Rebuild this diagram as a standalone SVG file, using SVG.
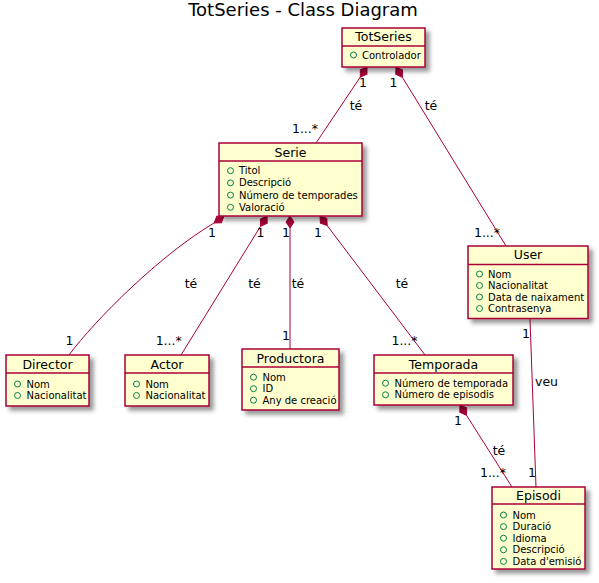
<svg xmlns="http://www.w3.org/2000/svg" xmlns:xlink="http://www.w3.org/1999/xlink" width="599" height="583" viewBox="0 0 599 583">
<defs>
<filter id="sh" x="-20%" y="-20%" width="150%" height="150%">
<feGaussianBlur result="b1" stdDeviation="2"/>
<feColorMatrix type="matrix" in="b1" result="b2" values="0 0 0 0 0 0 0 0 0 0 0 0 0 0 0 0 0 0 .4 0"/>
<feOffset result="b3" in="b2" dx="4" dy="4"/>
<feBlend in="SourceGraphic" in2="b3" mode="normal"/>
</filter>
<path id="dia" d="M0,0 L6,-4 L12,0 L6,4 Z"/>
<style>
.box{fill:#FEFECE;stroke:#A80036;stroke-width:1.5;filter:url(#sh)}
.sep{stroke:#A80036;stroke-width:1.5}
.name{font-family:"DejaVu Sans",sans-serif;font-size:12.5px;text-anchor:middle;fill:#000}
.attr{font-family:"DejaVu Sans",sans-serif;font-size:10px;fill:#000}
.dot{fill:none;stroke:#038048;stroke-width:1}
.ln{fill:none;stroke:#A80036;stroke-width:1}
.dm{fill:#A80036;stroke:#A80036;stroke-width:1}
.lbl{font-family:"DejaVu Sans",sans-serif;font-size:12.5px;text-anchor:middle;fill:#000}
.title{font-family:"DejaVu Sans",sans-serif;font-size:18px;text-anchor:middle;fill:#000}
</style>
</defs>
<rect width="599" height="583" fill="#FFFFFF"/>
<text class="title" x="303" y="16">TotSeries - Class Diagram</text>

<g id="connectors">
<line class="ln" x1="360.3" y1="77" x2="316" y2="143"/>
<use href="#dia" class="dm" transform="translate(367,67) rotate(123.9)"/>
<line class="ln" x1="402.3" y1="77.2" x2="506" y2="246"/>
<use href="#dia" class="dm" transform="translate(396,67) rotate(58.4)"/>
<path class="ln" d="M214.2,222.9 C160,255 95,320 69,355"/>
<use href="#dia" class="dm" transform="translate(224,216) rotate(145)"/>
<line class="ln" x1="260.6" y1="226.2" x2="181" y2="355"/>
<use href="#dia" class="dm" transform="translate(267,216) rotate(122)"/>
<line class="ln" x1="290" y1="228" x2="290" y2="349"/>
<use href="#dia" class="dm" transform="translate(290,216) rotate(90)"/>
<line class="ln" x1="327.2" y1="225.6" x2="425" y2="355"/>
<use href="#dia" class="dm" transform="translate(320,216) rotate(53)"/>
<line class="ln" x1="466.4" y1="415.1" x2="512" y2="487"/>
<use href="#dia" class="dm" transform="translate(460,405) rotate(57.6)"/>
<line class="ln" x1="530" y1="319" x2="536" y2="487"/>

<text class="lbl" x="363" y="87">1</text>
<text class="lbl" x="356" y="110">té</text>
<text class="lbl" x="305" y="133">1...*</text>
<text class="lbl" x="393.5" y="87">1</text>
<text class="lbl" x="431" y="110">té</text>
<text class="lbl" x="487" y="237">1...*</text>
<text class="lbl" x="212" y="237">1</text>
<text class="lbl" x="191" y="288">té</text>
<text class="lbl" x="69.5" y="345">1</text>
<text class="lbl" x="260.5" y="237">1</text>
<text class="lbl" x="254.5" y="288">té</text>
<text class="lbl" x="168.7" y="345">1...*</text>
<text class="lbl" x="286" y="237">1</text>
<text class="lbl" x="298" y="288">té</text>
<text class="lbl" x="286" y="340">1</text>
<text class="lbl" x="318" y="237">1</text>
<text class="lbl" x="402" y="288">té</text>
<text class="lbl" x="404.5" y="345">1...*</text>
<text class="lbl" x="526" y="338">1</text>
<text class="lbl" x="546.5" y="386">veu</text>
<text class="lbl" x="532" y="477">1</text>
<text class="lbl" x="458" y="425">1</text>
<text class="lbl" x="499" y="455">té</text>
<text class="lbl" x="493" y="477">1...*</text>
</g>

<g id="TotSeries">
<rect class="box" x="342" y="28" width="83" height="39"/>
<line class="sep" x1="342" y1="46" x2="425" y2="46"/>
<text class="name" x="383.5" y="41">TotSeries</text>
<circle class="dot" cx="353.5" cy="55" r="3"/>
<text class="attr" x="362" y="58.5">Controlador</text>
</g>

<g id="Serie">
<rect class="box" x="219" y="143" width="143" height="73"/>
<line class="sep" x1="219" y1="161" x2="362" y2="161"/>
<text class="name" x="290.5" y="156.5">Serie</text>
<circle class="dot" cx="230.5" cy="170.7" r="3"/>
<text class="attr" x="239" y="174.2">Titol</text>
<circle class="dot" cx="230.5" cy="182.9" r="3"/>
<text class="attr" x="239" y="186.4">Descripció</text>
<circle class="dot" cx="230.5" cy="195.1" r="3"/>
<text class="attr" x="239" y="198.6">Número de temporades</text>
<circle class="dot" cx="230.5" cy="207.3" r="3"/>
<text class="attr" x="239" y="210.8">Valoració</text>
</g>

<g id="User">
<rect class="box" x="468" y="246" width="120" height="72.5"/>
<line class="sep" x1="468" y1="264.5" x2="588" y2="264.5"/>
<text class="name" x="528" y="258.5">User</text>
<circle class="dot" cx="479.5" cy="274" r="3"/>
<text class="attr" x="488" y="277.5">Nom</text>
<circle class="dot" cx="479.5" cy="285.5" r="3"/>
<text class="attr" x="488" y="289">Nacionalitat</text>
<circle class="dot" cx="479.5" cy="297" r="3"/>
<text class="attr" x="488" y="300.5">Data de naixament</text>
<circle class="dot" cx="479.5" cy="308.5" r="3"/>
<text class="attr" x="488" y="312">Contrasenya</text>
</g>

<g id="Director">
<rect class="box" x="6" y="355" width="83" height="51"/>
<line class="sep" x1="6" y1="373" x2="89" y2="373"/>
<text class="name" x="47.5" y="368.5">Director</text>
<circle class="dot" cx="17.5" cy="384" r="3"/>
<text class="attr" x="26.5" y="387.5">Nom</text>
<circle class="dot" cx="17.5" cy="395.5" r="3"/>
<text class="attr" x="26.5" y="399">Nacionalitat</text>
</g>

<g id="Actor">
<rect class="box" x="125" y="355" width="84" height="51"/>
<line class="sep" x1="125" y1="373" x2="209" y2="373"/>
<text class="name" x="167" y="368.5">Actor</text>
<circle class="dot" cx="136.5" cy="384" r="3"/>
<text class="attr" x="145.5" y="387.5">Nom</text>
<circle class="dot" cx="136.5" cy="395.5" r="3"/>
<text class="attr" x="145.5" y="399">Nacionalitat</text>
</g>

<g id="Productora">
<rect class="box" x="242" y="349" width="97" height="61"/>
<line class="sep" x1="242" y1="367" x2="339" y2="367"/>
<text class="name" x="290.5" y="362.5">Productora</text>
<circle class="dot" cx="253.5" cy="377.2" r="3"/>
<text class="attr" x="262.5" y="380.7">Nom</text>
<circle class="dot" cx="253.5" cy="388.7" r="3"/>
<text class="attr" x="262.5" y="392.2">ID</text>
<circle class="dot" cx="253.5" cy="400.2" r="3"/>
<text class="attr" x="262.5" y="403.7">Any de creació</text>
</g>

<g id="Temporada">
<rect class="box" x="374" y="355" width="139" height="50"/>
<line class="sep" x1="374" y1="373" x2="513" y2="373"/>
<text class="name" x="443.5" y="368.5">Temporada</text>
<circle class="dot" cx="385.5" cy="383.2" r="3"/>
<text class="attr" x="394.5" y="386.7">Número de temporada</text>
<circle class="dot" cx="385.5" cy="394.8" r="3"/>
<text class="attr" x="394.5" y="398.3">Número de episodis</text>
</g>

<g id="Episodi">
<rect class="box" x="492" y="487" width="93" height="82"/>
<line class="sep" x1="492" y1="504" x2="585" y2="504"/>
<text class="name" x="538.5" y="500">Episodi</text>
<circle class="dot" cx="503.5" cy="515" r="3"/>
<text class="attr" x="512.5" y="518.5">Nom</text>
<circle class="dot" cx="503.5" cy="526.6" r="3"/>
<text class="attr" x="512.5" y="530">Duració</text>
<circle class="dot" cx="503.5" cy="538.2" r="3"/>
<text class="attr" x="512.5" y="541.6">Idioma</text>
<circle class="dot" cx="503.5" cy="549.8" r="3"/>
<text class="attr" x="512.5" y="553.2">Descripció</text>
<circle class="dot" cx="503.5" cy="561.4" r="3"/>
<text class="attr" x="512.5" y="564.8">Data d'emisió</text>
</g>
</svg>
